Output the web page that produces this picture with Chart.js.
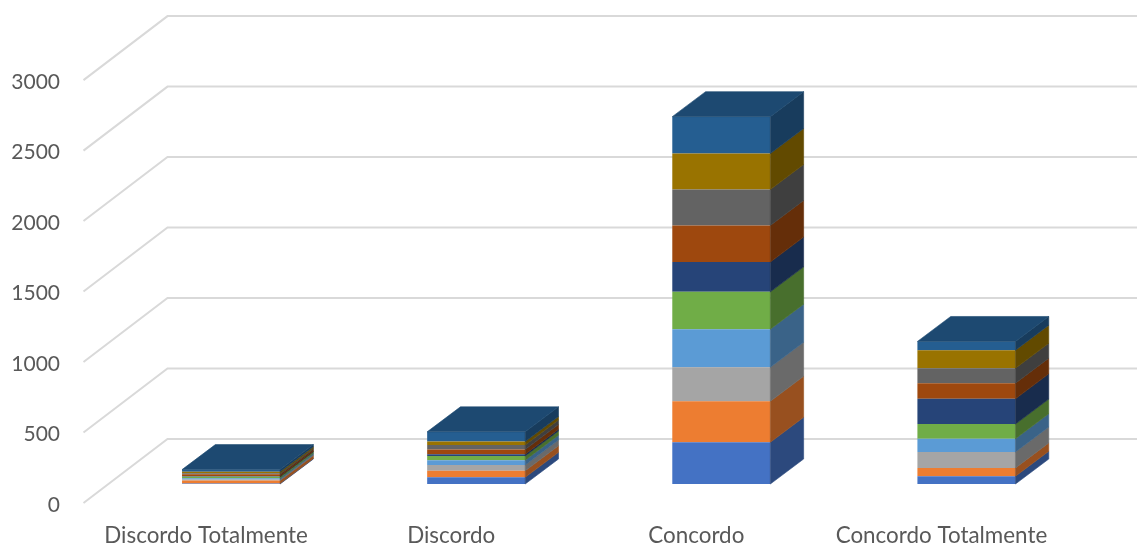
<!DOCTYPE html>
<html>
<head>
<meta charset="utf-8">
<style>
  html, body { margin: 0; padding: 0; background: #ffffff; }
  #wrap { width: 1137px; height: 546px; }
</style>
<script src="https://cdn.jsdelivr.net/npm/chart.js@4/dist/chart.umd.js"></script>
</head>
<body>
<div id="wrap"><canvas id="chart" width="1137" height="546"></canvas></div>
<script>
// Answers per scale point, one small array per stacked series.
const categories = ['Discordo Totalmente', 'Discordo', 'Concordo', 'Concordo Totalmente'];
const yTicks = [0, 500, 1000, 1500, 2000, 2500, 3000];

const series1  = [4, 47, 296, 55];
const series2  = [20, 47, 291, 59];
const series3  = [8, 40, 241, 113];
const series4  = [8, 35, 270, 94];
const series5  = [12, 30, 265, 104];
const series6  = [3, 12, 211, 179];
const series7  = [14, 33, 260, 111];
const series8  = [8, 33, 255, 106];
const series9  = [10, 24, 255, 128];
const series10 = [15, 69, 262, 62];

const allSeries = [series1, series2, series3, series4, series5, series6, series7, series8, series9, series10];
const colours = ['#4472C4', '#ED7D31', '#A5A5A5', '#5B9BD5', '#70AD47', '#264478', '#9E480E', '#636363', '#997300', '#255E91'];

// Oblique projection used for the pseudo-3D look.
const BAR_DEPTH = { dx: 33.3, dy: -25 };     // depth of each column
const FRONT_OFFSET = { dx: -25, dy: 19 };    // column plane to the front edge of the floor
const WALL_DEPTH = { dx: 84, dy: -64 };      // front edge of the floor to the back wall
const GRID_COLOUR = '#D9D9D9';
const TEXT_COLOUR = '#595959';

function shade(hex, factor) {
  const n = parseInt(hex.slice(1), 16);
  const c = [(n >> 16) & 255, (n >> 8) & 255, n & 255].map(v => Math.round(v * factor));
  return 'rgb(' + c.join(',') + ')';
}

const wallGrid = {
  id: 'wallGrid',
  beforeDatasetsDraw(chart) {
    const { ctx, scales: { y }, chartArea, width } = chart;
    ctx.save();
    ctx.strokeStyle = GRID_COLOUR;
    ctx.lineWidth = 2;
    ctx.lineJoin = 'miter';
    y.ticks.forEach(t => {
      const px = y.getPixelForValue(t.value);
      const x0 = chartArea.left + FRONT_OFFSET.dx;
      const y0 = px + FRONT_OFFSET.dy;
      ctx.beginPath();
      ctx.moveTo(x0, y0);
      ctx.lineTo(x0 + WALL_DEPTH.dx, y0 + WALL_DEPTH.dy);
      ctx.lineTo(width, y0 + WALL_DEPTH.dy);
      ctx.stroke();
    });
    ctx.restore();
  }
};

// Fills a face and strokes it thinly in its own colour so neighbouring faces leave no seam.
function paintFace(ctx, colour, points) {
  ctx.fillStyle = colour;
  ctx.strokeStyle = colour;
  ctx.lineWidth = 0.6;
  ctx.beginPath();
  points.forEach(([x, y], k) => (k ? ctx.lineTo(x, y) : ctx.moveTo(x, y)));
  ctx.closePath();
  ctx.fill();
  ctx.stroke();
}

const columnFaces = {
  id: 'columnFaces',
  afterDatasetsDraw(chart) {
    const { ctx } = chart;
    const { dx, dy } = BAR_DEPTH;
    const last = chart.data.datasets.length - 1;
    ctx.save();
    chart.data.datasets.forEach((ds, i) => {
      chart.getDatasetMeta(i).data.forEach(bar => {
        const p = bar.getProps(['x', 'y', 'base', 'width'], true);
        const right = p.x + p.width / 2;
        const left = p.x - p.width / 2;
        paintFace(ctx, shade(ds.backgroundColor, 0.64), [
          [right, p.base], [right + dx, p.base + dy], [right + dx, p.y + dy], [right, p.y]
        ]);
        if (i === last) {
          paintFace(ctx, shade(ds.backgroundColor, 0.78), [
            [left, p.y], [left + dx, p.y + dy], [right + dx, p.y + dy], [right, p.y]
          ]);
        }
      });
    });
    ctx.restore();
  }
};

new Chart(document.getElementById('chart'), {
  type: 'bar',
  data: {
    labels: categories,
    datasets: allSeries.map((values, i) => ({
      label: 'Série ' + (i + 1),
      data: values,
      backgroundColor: colours[i],
      borderWidth: 0,
      barPercentage: 0.4,
      categoryPercentage: 1
    }))
  },
  options: {
    responsive: false,
    animation: false,
    layout: { padding: { top: 61, right: 48, left: 0, bottom: 0 } },
    plugins: { legend: { display: false }, tooltip: { enabled: false } },
    scales: {
      x: {
        stacked: true,
        grid: { display: false, drawTicks: false },
        border: { display: false },
        afterFit(scale) { scale.height = 62; },
        ticks: {
          color: TEXT_COLOUR,
          font: { family: 'Lato', size: 22.4 },
          labelOffset: FRONT_OFFSET.dx,
          padding: 38,
          autoSkip: false,
          maxRotation: 0
        }
      },
      y: {
        stacked: true,
        min: yTicks[0],
        max: yTicks[yTicks.length - 1],
        grid: { display: false, drawTicks: false },
        border: { display: false },
        afterFit(scale) { scale.width = 108.5; },
        afterBuildTicks(scale) { scale.ticks = yTicks.map(v => ({ value: v })); },
        ticks: {
          color: TEXT_COLOUR,
          font: { family: 'Lato', size: 21 },
          labelOffset: FRONT_OFFSET.dy + 2,
          padding: 48.5,
          callback: v => String(v)
        }
      }
    }
  },
  plugins: [wallGrid, columnFaces]
});
</script>
</body>
</html>
